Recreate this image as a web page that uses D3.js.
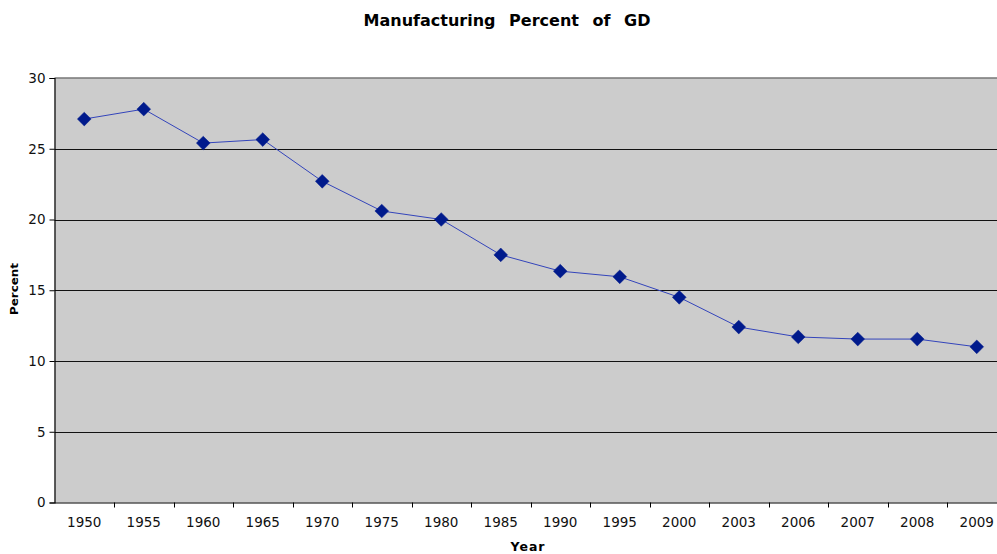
<!DOCTYPE html>
<html><head><meta charset="utf-8">
<script src="https://cdn.jsdelivr.net/npm/d3@7"></script>
<style>body{margin:0;background:#fff}svg{display:block}</style>
</head><body>
<svg id="c" width="997" height="554"></svg>
<script>
const years = ["1950","1955","1960","1965","1970","1975","1980","1985","1990","1995","2000","2003","2006","2007","2008","2009"];
const percent = [27.1,27.8,25.4,25.65,22.7,20.6,20.0,17.5,16.35,15.95,14.5,12.4,11.7,11.55,11.55,11.0];
const yTicks = [0,5,10,15,20,25,30];

const svg = d3.select("#c");
const L = 54.5, R = 1006.5, T = 78, B = 502.5;
const x = d3.scaleBand().domain(years).range([L, R]);
const y = d3.scaleLinear().domain([0, 30]).range([B, T]);

svg.append("rect").attr("x", L).attr("y", T).attr("width", R - L).attr("height", B - T).attr("fill", "#cccccc");
svg.append("line").attr("x1", L).attr("x2", R).attr("y1", T).attr("y2", T).attr("stroke", "#777").attr("stroke-width", 1.5);

svg.append("g").selectAll("line").data(yTicks.filter(d => d > 0 && d < 30)).join("line")
  .attr("x1", L).attr("x2", R).attr("y1", d => Math.round(y(d)) + 0.5).attr("y2", d => Math.round(y(d)) + 0.5)
  .attr("stroke", "#111").attr("stroke-width", 1);

const ya = svg.append("g").attr("transform", `translate(${L},0)`)
  .call(d3.axisLeft(y).tickValues(yTicks).tickSize(5).tickPadding(4));
const xa = svg.append("g").attr("transform", `translate(0,${B})`)
  .call(d3.axisBottom(x).tickSize(0).tickPadding(15));
svg.append("g").selectAll("line").data(years.slice(1)).join("line")
  .attr("x1", d => Math.round(x(d)) + 0.5).attr("x2", d => Math.round(x(d)) + 0.5)
  .attr("y1", B).attr("y2", B + 5).attr("stroke", "#000");

[ya, xa].forEach(g => {
  g.select(".domain").attr("stroke", "#000").attr("stroke-width", 1.2);
  g.selectAll("text").attr("font-family", "DejaVu Sans, Verdana, sans-serif").attr("font-size", 13.5).attr("fill", "#111");
  g.selectAll(".tick line").attr("stroke", "#000");
});
xa.select(".domain").attr("d", `M${L},0.5H${R}`);

const cx = d => x(d) + x.bandwidth() / 2;
const line = d3.line().x((d, i) => cx(years[i])).y(d => y(d));
svg.append("path").datum(percent).attr("d", line).attr("fill", "none").attr("stroke", "#3344bb").attr("stroke-width", 1);

svg.append("g").selectAll("path").data(percent).join("path")
  .attr("transform", (d, i) => `translate(${cx(years[i])},${y(d)})`)
  .attr("d", d3.symbol(d3.symbolDiamond2, 120))
  .attr("fill", "#001a8c").attr("stroke", "#001a8c").attr("stroke-width", 0.5);

svg.append("text").attr("x", 507).attr("y", 26).attr("text-anchor", "middle")
  .attr("font-family", "DejaVu Sans, Verdana, sans-serif").attr("font-weight", "bold").attr("font-size", 16)
  .attr("word-spacing", 8).text("Manufacturing Percent of GD");

svg.append("text").attr("x", 528).attr("y", 551).attr("text-anchor", "middle")
  .attr("font-family", "DejaVu Sans, Verdana, sans-serif").attr("font-weight", "bold").attr("font-size", 12.5)
  .attr("letter-spacing", 1).text("Year");

svg.append("text").attr("transform", "translate(18,289) rotate(-90)").attr("text-anchor", "middle")
  .attr("font-family", "DejaVu Sans, Verdana, sans-serif").attr("font-weight", "bold").attr("font-size", 11)
  .attr("textLength", 52).attr("lengthAdjust", "spacingAndGlyphs").text("Percent");
</script>
</body></html>
